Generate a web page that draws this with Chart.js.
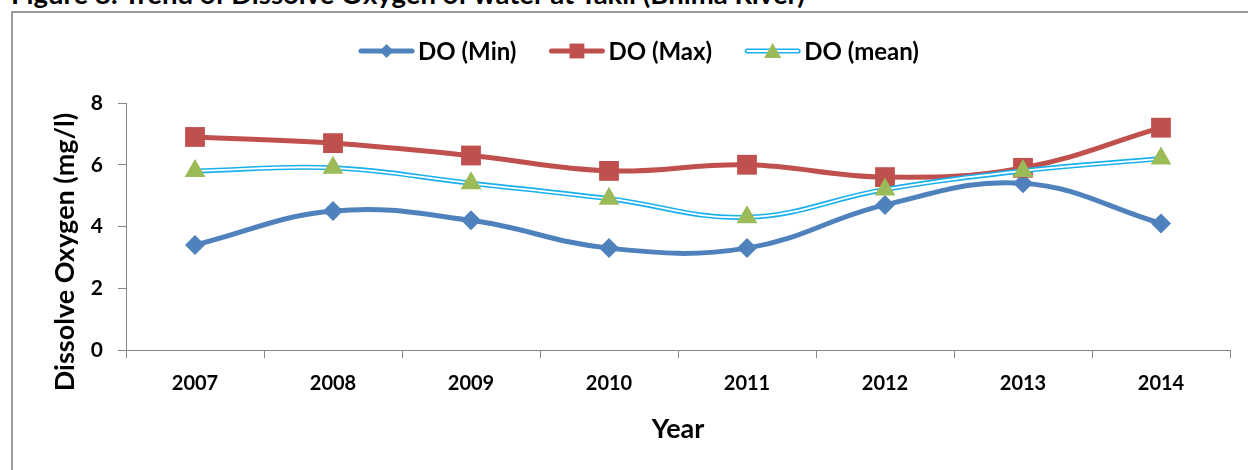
<!DOCTYPE html>
<html>
<head>
<meta charset="utf-8">
<script src="https://cdn.jsdelivr.net/npm/chart.js@4.4.1/dist/chart.umd.min.js"></script>
<style>
  html, body { margin: 0; padding: 0; background: #fff; overflow: hidden; }
  #wrap { position: relative; width: 1248px; height: 470px; overflow: hidden; }
  #title { position: absolute; left: 11px; top: -23px; font: bold 27.5px Lato, sans-serif; white-space: nowrap; color: #000; }
  #frame { position: absolute; left: 11px; top: 11px; width: 1300px; height: 500px; border: 2px solid #9a9a9a; pointer-events: none; }
  canvas { position: absolute; left: 0; top: 0; }
</style>
</head>
<body>
<div id="wrap">
  <div id="title">Figure 8: Trend of Dissolve Oxygen of water at Takli (Bhima River)</div>
  <div id="frame"></div>
  <canvas id="c" width="1248" height="470"></canvas>
</div>
<script>
// Dissolved oxygen readings (mg/l) per year
const years = ['2007', '2008', '2009', '2010', '2011', '2012', '2013', '2014'];
const doMin = [3.4, 4.5, 4.2, 3.3, 3.3, 4.7, 5.4, 4.1];
const doMax = [6.9, 6.7, 6.3, 5.8, 6.0, 5.6, 5.9, 7.2];
const doMean = [5.8, 5.9, 5.4, 4.9, 4.3, 5.2, 5.8, 6.2];
const seriesNames = ['DO (Min)', 'DO (Max)', 'DO (mean)'];
const yTicks = [0, 2, 4, 6, 8];
const yTitle = 'Dissolve Oxygen (mg/l)';
const xTitle = 'Year';

const FONT = 'Lato, sans-serif';
const BLUE = '#4f81bd', RED = '#c0504d', GREEN = '#9bbb59', CYAN = '#1ab0ef';

// Legend row drawn in one line with line+marker icons, in series order
const legendRow = {
  id: 'legendRow',
  afterDraw(chart) {
    const ctx = chart.ctx;
    const items = chart.data.datasets
      .filter(d => d.legendIcon)
      .sort((a, b) => seriesNames.indexOf(a.label) - seriesNames.indexOf(b.label));
    ctx.save();
    ctx.font = 'bold 24px ' + FONT;
    ctx.textBaseline = 'middle';
    const iconW = 55, gapText = 4, gapItem = 33;
    const widths = items.map(d => iconW + gapText + ctx.measureText(d.label).width);
    const total = widths.reduce((a, b) => a + b, 0) + gapItem * (items.length - 1);
    let x = 639 - total / 2;
    const y = 51;
    items.forEach((d, i) => {
      const ic = d.legendIcon;
      ctx.lineCap = 'round';
      ctx.beginPath(); ctx.moveTo(x + 2, y); ctx.lineTo(x + iconW - 2, y);
      if (ic.double) {
        ctx.strokeStyle = CYAN; ctx.lineWidth = 5; ctx.stroke();
        ctx.strokeStyle = '#fff'; ctx.lineWidth = 1.8; ctx.stroke();
      } else {
        ctx.strokeStyle = ic.color; ctx.lineWidth = 5; ctx.stroke();
      }
      ctx.fillStyle = ic.marker;
      Chart.helpers.drawPoint(ctx, { pointStyle: ic.style, radius: ic.radius, borderWidth: 0, rotation: 0 },
        x + iconW / 2, y + (ic.style === 'triangle' ? 2 : 0));
      ctx.fillStyle = '#000';
      ctx.fillText(d.label, x + iconW + gapText, y + 1);
      x += widths[i] + gapItem;
    });
    ctx.restore();
  }
};

// Vertical axis title, set a little below the middle of the axis
const yAxisTitle = {
  id: 'yAxisTitle',
  afterDraw(chart) {
    const ctx = chart.ctx;
    ctx.save();
    ctx.translate(65, 252);
    ctx.rotate(-Math.PI / 2);
    ctx.font = 'bold 27px ' + FONT;
    ctx.fillStyle = '#000';
    ctx.textAlign = 'center';
    ctx.textBaseline = 'middle';
    ctx.fillText(yTitle, 0, 0);
    ctx.restore();
  }
};

new Chart(document.getElementById('c'), {
  type: 'line',
  data: {
    labels: years,
    datasets: [
      {
        // white core of the double line, carrying the triangle markers
        label: seriesNames[2] + ' core', data: doMean, order: 0,
        borderColor: '#fff', borderWidth: 1.8, tension: 0.4,
        pointStyle: 'triangle', pointRadius: 12, pointBackgroundColor: GREEN, pointBorderColor: GREEN, pointBorderWidth: 0
      },
      {
        label: seriesNames[2], data: doMean, order: 1,
        borderColor: CYAN, borderWidth: 5, tension: 0.4, pointRadius: 0,
        legendIcon: { double: true, marker: GREEN, style: 'triangle', radius: 10 }
      },
      {
        label: seriesNames[1], data: doMax, order: 2,
        borderColor: RED, borderWidth: 5, tension: 0.4,
        pointStyle: 'rect', pointRadius: 14, pointBackgroundColor: RED, pointBorderColor: RED, pointBorderWidth: 0,
        legendIcon: { color: RED, marker: RED, style: 'rect', radius: 10.5 }
      },
      {
        label: seriesNames[0], data: doMin, order: 3,
        borderColor: BLUE, borderWidth: 5, tension: 0.4,
        pointStyle: 'rectRot', pointRadius: 10, pointBackgroundColor: BLUE, pointBorderColor: BLUE, pointBorderWidth: 0,
        legendIcon: { color: BLUE, marker: BLUE, style: 'rectRot', radius: 7 }
      }
    ]
  },
  options: {
    responsive: false,
    animation: false,
    events: [],
    layout: { padding: { left: 0, right: 18, top: 103, bottom: 0 } },
    plugins: { legend: { display: false }, tooltip: { enabled: false } },
    scales: {
      x: {
        offset: true,
        grid: { offset: true, drawOnChartArea: false, tickLength: 8, color: '#868686', lineWidth: 1 },
        border: { color: '#868686', width: 1 },
        ticks: { color: '#000', font: { family: FONT, size: 20, weight: 'bold' }, padding: 14, maxRotation: 0 },
        title: { display: true, text: xTitle, color: '#000', font: { family: FONT, size: 27, weight: 'bold' }, padding: { top: 0, bottom: 25 } },
        afterFit(s) { s.height = 120; }
      },
      y: {
        min: yTicks[0], max: yTicks[yTicks.length - 1],
        afterBuildTicks(s) { s.ticks = yTicks.map(v => ({ value: v })); },
        grid: { drawOnChartArea: false, tickLength: 8, color: '#868686', lineWidth: 1 },
        border: { color: '#868686', width: 1 },
        ticks: { color: '#000', font: { family: FONT, size: 21, weight: 'bold' }, padding: 15 },
        afterFit(s) { s.width = 126; }
      }
    }
  },
  plugins: [legendRow, yAxisTitle]
});
</script>
</body>
</html>
